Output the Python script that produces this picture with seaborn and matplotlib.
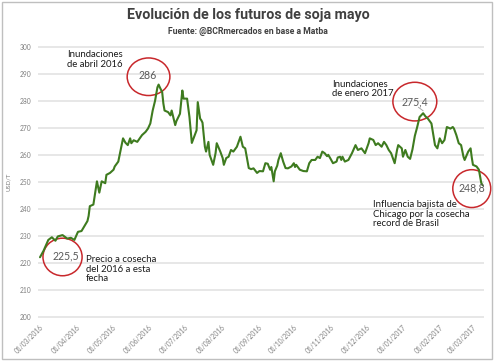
import pandas as pd
import seaborn as sns
import matplotlib.pyplot as plt
import matplotlib.dates as mdates
from matplotlib.patches import Ellipse, Rectangle

# Precio futuro soja mayo (USD/t)
dates = [
    "2016-03-01", "2016-03-04", "2016-03-08", "2016-03-11", "2016-03-14", "2016-03-16",
    "2016-03-20", "2016-03-24", "2016-03-27", "2016-03-30", "2016-04-02", "2016-04-05",
    "2016-04-10", "2016-04-11", "2016-04-12", "2016-04-15", "2016-04-18", "2016-04-20",
    "2016-04-22", "2016-04-25", "2016-04-26", "2016-04-29", "2016-05-02", "2016-05-03",
    "2016-05-06", "2016-05-10", "2016-05-12", "2016-05-14", "2016-05-16", "2016-05-17",
    "2016-05-19", "2016-05-22", "2016-05-26", "2016-05-29", "2016-05-31", "2016-06-02",
    "2016-06-04", "2016-06-06", "2016-06-08", "2016-06-09", "2016-06-10", "2016-06-12",
    "2016-06-13", "2016-06-14", "2016-06-17", "2016-06-19", "2016-06-20", "2016-06-23",
    "2016-06-24", "2016-06-27", "2016-06-29", "2016-06-30", "2016-07-03", "2016-07-05",
    "2016-07-07", "2016-07-09", "2016-07-11", "2016-07-12", "2016-07-14", "2016-07-15",
    "2016-07-16", "2016-07-18", "2016-07-19", "2016-07-21", "2016-07-22", "2016-07-25",
    "2016-07-27", "2016-07-28", "2016-07-31", "2016-08-02", "2016-08-03", "2016-08-05",
    "2016-08-07", "2016-08-09", "2016-08-11", "2016-08-14", "2016-08-17", "2016-08-19",
    "2016-08-21", "2016-08-24", "2016-08-26", "2016-08-28", "2016-08-31", "2016-09-02",
    "2016-09-05", "2016-09-07", "2016-09-09", "2016-09-11", "2016-09-12", "2016-09-14",
    "2016-09-15", "2016-09-17", "2016-09-18", "2016-09-20", "2016-09-22", "2016-09-24",
    "2016-09-26", "2016-09-29", "2016-10-01", "2016-10-02", "2016-10-03", "2016-10-06",
    "2016-10-09", "2016-10-12", "2016-10-14", "2016-10-16", "2016-10-19", "2016-10-21",
    "2016-10-23", "2016-10-25", "2016-10-27", "2016-10-29", "2016-10-30", "2016-11-01",
    "2016-11-03", "2016-11-06", "2016-11-07", "2016-11-09", "2016-11-10", "2016-11-11",
    "2016-11-13", "2016-11-16", "2016-11-19", "2016-11-22", "2016-11-24", "2016-11-27",
    "2016-11-30", "2016-12-03", "2016-12-04", "2016-12-07", "2016-12-09", "2016-12-11",
    "2016-12-14", "2016-12-16", "2016-12-18", "2016-12-20", "2016-12-22", "2016-12-25",
    "2016-12-27", "2016-12-28", "2016-12-31", "2017-01-01", "2017-01-03", "2017-01-05",
    "2017-01-07", "2017-01-09", "2017-01-11", "2017-01-13", "2017-01-15", "2017-01-18",
    "2017-01-20", "2017-01-22", "2017-01-25", "2017-01-28", "2017-01-30", "2017-02-01",
    "2017-02-03", "2017-02-05", "2017-02-07", "2017-02-10", "2017-02-12", "2017-02-13",
    "2017-02-15", "2017-02-17", "2017-02-19", "2017-02-21", "2017-02-22", "2017-02-25",
    "2017-02-27", "2017-02-28", "2017-03-01", "2017-03-04", "2017-03-06", "2017-03-08",
    "2017-03-09",
]
prices = [
    222.1, 224.5, 228.5, 229.5, 228.2, 229.8,
    230.3, 229.0, 229.3, 228.5, 231.5, 231.8,
    235.5, 237.4, 241.0, 241.6, 250.2, 246.0,
    250.2, 249.5, 252.6, 253.3, 254.5, 255.7,
    257.5, 266.1, 264.5, 263.6, 266.1, 264.3,
    265.4, 264.8, 267.3, 268.5, 269.7, 271.6,
    276.4, 280.0, 285.0, 286.0, 285.0, 283.2,
    279.0, 276.4, 275.8, 274.6, 276.4, 271.0,
    272.5, 275.2, 283.8, 280.8, 280.8, 274.0,
    264.4, 266.7, 269.1, 279.5, 273.4, 272.8,
    271.9, 263.0, 261.2, 264.8, 260.0, 256.3,
    260.6, 264.3, 261.2, 258.8, 256.3, 258.8,
    259.3, 261.8, 261.2, 263.0, 266.7, 263.0,
    262.4, 255.1, 254.7, 255.0, 253.3, 254.0,
    253.9, 256.9, 256.7, 254.5, 255.5, 250.2,
    253.9, 256.0, 258.1, 260.6, 257.5, 255.1,
    255.0, 255.7, 256.9, 255.5, 256.3, 254.5,
    254.0, 253.9, 256.9, 258.1, 258.1, 259.3,
    258.8, 261.2, 260.6, 259.5, 260.0, 258.5,
    256.9, 257.5, 259.0, 259.3, 258.1, 259.3,
    257.5, 258.1, 260.6, 263.6, 261.8, 262.4,
    260.6, 264.3, 266.1, 265.5, 263.6, 264.3,
    263.0, 264.8, 263.6, 261.8, 260.6, 256.9,
    261.8, 263.6, 262.4, 259.3, 261.8, 259.3,
    258.5, 262.0, 267.0, 270.3, 274.0, 275.4,
    274.2, 273.4, 271.6, 263.6, 262.4, 266.1,
    264.3, 265.5, 270.3, 269.7, 270.3, 269.7,
    267.3, 264.3, 263.6, 259.3, 258.1, 261.2,
    262.4, 259.0, 256.3, 255.7, 254.5, 249.6,
    248.8,
]
y_ticks = [200, 210, 220, 230, 240, 250, 260, 270, 280, 290, 300]

df = pd.DataFrame({"fecha": pd.to_datetime(dates), "precio": prices})

sns.set_style("white")
plt.rcParams["font.family"] = ["Lato", "DejaVu Sans"]

fig = plt.figure(figsize=(4.97, 3.61), dpi=100)
ax = fig.add_axes([0.0765, 0.119, 0.8975, 0.7545])

sns.lineplot(data=df, x="fecha", y="precio", ax=ax, color="#3E7B1F", linewidth=1.5)

ax.set_ylim(199.6, 300.4)
ax.set_xlim(pd.Timestamp("2016-02-28 08:00"), pd.Timestamp("2017-03-10 09:00"))
ax.set_yticks(y_ticks)
ax.yaxis.grid(True, color="#E3E3E3", linewidth=1.2)
ax.xaxis.grid(False)
for s in ax.spines.values():
    s.set_visible(False)
ax.xaxis.set_major_locator(mdates.MonthLocator(bymonthday=1))
ax.xaxis.set_major_formatter(mdates.DateFormatter("%d/%m/%Y"))
ax.tick_params(axis="both", length=0, labelsize=4.8, labelcolor="#7F7F7F")
ax.tick_params(axis="y", pad=5)
ax.tick_params(axis="x", pad=4)
for lbl in ax.get_xticklabels():
    lbl.set_rotation(45)
    lbl.set_ha("right")
    lbl.set_rotation_mode("anchor")
ax.set_xlabel("")
ax.set_ylabel("USD/T", fontsize=4.3, color="#7F7F7F", labelpad=6)

red = "#C8282C"
note = dict(fontsize=6.9, color="#1A1A1A", ha="left", va="top", linespacing=1.08)
num = dict(fontsize=7.6, color="#595959", ha="center", va="center")

def circle(day, val, w, h):
    ax.add_patch(Ellipse((mdates.date2num(pd.Timestamp(day)), val), w, h,
                         fill=False, edgecolor=red, linewidth=1.1, clip_on=False))

circle("2016-03-20", 222.2, 33, 13.9)
ax.text(pd.Timestamp("2016-03-23"), 222.6, "225,5", **num)
ax.text(pd.Timestamp("2016-04-09"), 222.9, "Precio a cosecha\ndel 2016 a esta\nfecha", **note)

circle("2016-05-31 12:00", 288.9, 36, 13.9)
ax.text(pd.Timestamp("2016-05-31"), 289.3, "286", **num)
ax.text(pd.Timestamp("2016-03-24"), 298.8, "Inundaciones\nde abril 2016", **note)

circle("2017-01-11", 279.7, 37, 14.3)
ax.text(pd.Timestamp("2017-01-11"), 279.5, "275,4", **num)
ax.plot([pd.Timestamp("2017-01-14"), pd.Timestamp("2017-01-18")], [277.6, 276.3],
        color="#A6A6A6", linewidth=0.7)
ax.text(pd.Timestamp("2016-11-02"), 287.8, "Inundaciones\nde enero 2017", **note)

circle("2017-02-28", 247.5, 32, 14.0)
ax.text(pd.Timestamp("2017-02-28 12:00"), 247.7, "248,8", **num)
ax.text(pd.Timestamp("2016-12-07"), 243.2,
        "Influencia bajista de\nChicago por la cosecha\nrecord de Brasil", **note)

head = ["Roboto", "DejaVu Sans"]
fig.text(0.499, 0.958, "Evolución de los futuros de soja mayo", family=head,
         fontsize=10.3, fontweight="bold", color="#404040", ha="center", va="center")
fig.text(0.499, 0.914, "Fuente: @BCRmercados en base a Matba", family=head,
         fontsize=6.2, fontweight="bold", color="#404040", ha="center", va="center")

fig.patches.append(Rectangle((0.004, 0.005), 0.986, 0.99, transform=fig.transFigure,
                             fill=False, edgecolor="#BFBFBF", linewidth=1.0))

fig.savefig("out.png", dpi=100)
